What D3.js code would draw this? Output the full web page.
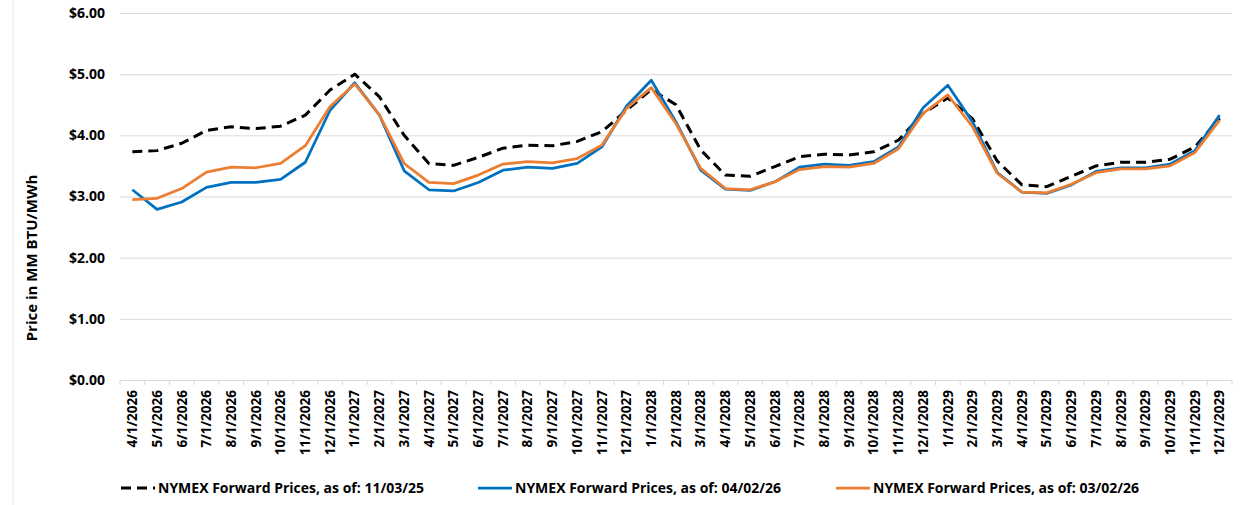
<!DOCTYPE html>
<html>
<head>
<meta charset="utf-8">
<script src="https://cdn.jsdelivr.net/npm/d3@7/dist/d3.min.js"></script>
<style>
  body { margin: 0; background: #fff; }
  svg { display: block; font-family: "Open Sans", sans-serif; }
</style>
</head>
<body>
<div id="container"></div>
<script>

// Chart data
const months = [
  "4/1/2026", "5/1/2026", "6/1/2026", "7/1/2026", "8/1/2026", "9/1/2026", "10/1/2026", "11/1/2026", "12/1/2026",
  "1/1/2027", "2/1/2027", "3/1/2027", "4/1/2027", "5/1/2027", "6/1/2027", "7/1/2027", "8/1/2027", "9/1/2027",
  "10/1/2027", "11/1/2027", "12/1/2027", "1/1/2028", "2/1/2028", "3/1/2028", "4/1/2028", "5/1/2028", "6/1/2028",
  "7/1/2028", "8/1/2028", "9/1/2028", "10/1/2028", "11/1/2028", "12/1/2028", "1/1/2029", "2/1/2029", "3/1/2029",
  "4/1/2029", "5/1/2029", "6/1/2029", "7/1/2029", "8/1/2029", "9/1/2029", "10/1/2029", "11/1/2029", "12/1/2029"
];

const prices110325 = [
  3.73, 3.75, 3.87, 4.08, 4.14, 4.11, 4.15, 4.33, 4.74, 5.00, 4.63, 4.00,
  3.54, 3.51, 3.64, 3.79, 3.84, 3.83, 3.90, 4.06, 4.41, 4.75, 4.50, 3.76, 3.35, 3.33, 3.49, 3.65,
  3.69, 3.68, 3.73, 3.92, 4.36, 4.61, 4.27, 3.58, 3.19, 3.16, 3.33, 3.50, 3.56, 3.56, 3.61, 3.81, 4.28
];

const prices040226 = [
  3.11, 2.79, 2.91, 3.15, 3.23, 3.23, 3.28, 3.56, 4.41, 4.86, 4.33, 3.42,
  3.11, 3.09, 3.23, 3.43, 3.48, 3.46, 3.54, 3.81, 4.48, 4.90, 4.22, 3.43, 3.12, 3.10, 3.24, 3.48,
  3.53, 3.51, 3.57, 3.81, 4.45, 4.82, 4.22, 3.39, 3.07, 3.05, 3.19, 3.41, 3.47, 3.47, 3.53, 3.75, 4.33
];

const prices030226 = [
  2.95, 2.97, 3.13, 3.40, 3.48, 3.47, 3.54, 3.83, 4.47, 4.84, 4.33, 3.54,
  3.23, 3.21, 3.35, 3.53, 3.57, 3.55, 3.62, 3.84, 4.44, 4.78, 4.19, 3.46, 3.13, 3.11, 3.24, 3.44,
  3.49, 3.48, 3.54, 3.78, 4.36, 4.66, 4.14, 3.38, 3.07, 3.06, 3.20, 3.39, 3.45, 3.45, 3.50, 3.72, 4.25
];

const yTicks = [0, 1, 2, 3, 4, 5, 6];

const seriesNames = [
  "NYMEX Forward Prices, as of: 11/03/25",
  "NYMEX Forward Prices, as of: 04/02/26",
  "NYMEX Forward Prices, as of: 03/02/26"
];

// dimensions
const width = 1241;
const height = 505;
const marginTop = 13;
const marginLeft = 120;
const marginRight = 9;
const plotBottom = 380;

const series = [
  { name: seriesNames[0], values: prices110325, color: "#000000", width: 3, dash: "10,6" },
  { name: seriesNames[1], values: prices040226, color: "#0070C0", width: 2.75, dash: null },
  { name: seriesNames[2], values: prices030226, color: "#ED7D31", width: 2.75, dash: null }
];

const x = d3.scaleBand()
    .domain(months)
    .range([marginLeft, width - marginRight])
    .paddingInner(0)
    .paddingOuter(0);

const y = d3.scaleLinear()
    .domain([0, 6])
    .range([plotBottom, marginTop]);

const svg = d3.create("svg")
    .attr("width", width)
    .attr("height", height);

// faint left border of the chart area
svg.append("line")
    .attr("x1", 13).attr("x2", 13)
    .attr("y1", 0).attr("y2", height)
    .attr("stroke", "#e6e6e6");

// gridlines + y labels
const yAxis = svg.append("g")
    .attr("transform", `translate(${marginLeft},0)`)
    .call(d3.axisLeft(y)
        .tickValues(yTicks)
        .tickSize(-(width - marginRight - marginLeft))
        .tickPadding(15)
        .tickFormat(d => "$" + d.toFixed(2)));
yAxis.select(".domain").remove();
yAxis.selectAll(".tick line").attr("stroke", "#d9d9d9").attr("stroke-width", 1);
yAxis.selectAll(".tick text")
    .attr("font-family", "Open Sans, sans-serif")
    .attr("font-size", 14)
    .attr("font-weight", "bold")
    .attr("fill", "#000");

// x axis with ticks between categories
const xAxis = svg.append("g")
    .attr("transform", `translate(0,${plotBottom})`)
    .call(d3.axisBottom(x).tickSize(0).tickSizeOuter(0).tickPadding(0));
xAxis.select(".domain").attr("stroke", "#d9d9d9");
xAxis.selectAll(".tick text")
    .attr("font-family", "Open Sans, sans-serif")
    .attr("font-size", 13.5)
    .attr("font-weight", "bold")
    .attr("fill", "#000")
    .attr("text-anchor", "end")
    .attr("dy", "0.35em")
    .attr("transform", "translate(0,10) rotate(-90)");

// category separators
svg.append("g")
    .selectAll("line")
    .data(months.concat([null]))
    .join("line")
    .attr("x1", (d, i) => marginLeft + i * x.step())
    .attr("x2", (d, i) => marginLeft + i * x.step())
    .attr("y1", plotBottom)
    .attr("y2", plotBottom + 5)
    .attr("stroke", "#d9d9d9");

// lines
const line = d3.line()
    .x((d, i) => x(months[i]) + x.bandwidth() / 2)
    .y(d => y(d));

svg.append("g")
    .selectAll("path")
    .data(series)
    .join("path")
    .attr("fill", "none")
    .attr("stroke", d => d.color)
    .attr("stroke-width", d => d.width)
    .attr("stroke-dasharray", d => d.dash)
    .attr("stroke-linejoin", "round")
    .attr("d", d => line(d.values));

// y axis title
svg.append("text")
    .attr("transform", "translate(32,258) rotate(-90)")
    .attr("text-anchor", "middle")
    .attr("dy", "0.35em")
    .attr("font-family", "Open Sans, sans-serif")
    .attr("font-size", 15)
    .attr("font-weight", "bold")
    .text("Price in MM BTU/MWh");

// legend
const legendX = [121, 478, 836];
const legendY = 488;
const legend = svg.append("g")
    .selectAll("g")
    .data(series)
    .join("g")
    .attr("transform", (d, i) => `translate(${legendX[i]},${legendY})`);
legend.append("line")
    .attr("x1", 0).attr("x2", 34)
    .attr("stroke", d => d.color)
    .attr("stroke-width", d => d.width)
    .attr("stroke-dasharray", d => d.dash);
legend.append("text")
    .attr("x", 37)
    .attr("dy", "0.35em")
    .attr("font-family", "Open Sans, sans-serif")
    .attr("font-size", 14)
    .attr("font-weight", "bold")
    .text(d => d.name);

container.append(svg.node());
</script>
</body>
</html>
